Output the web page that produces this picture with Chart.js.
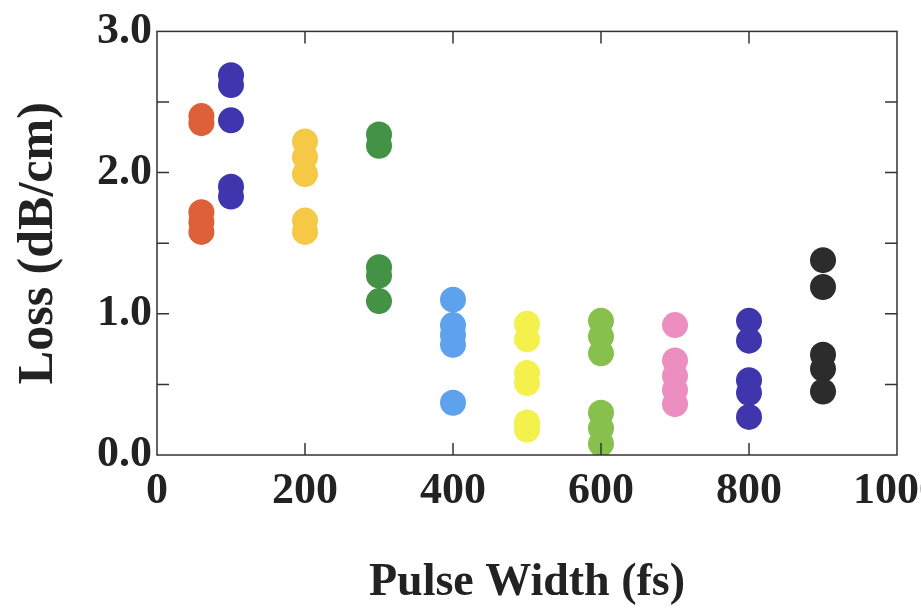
<!DOCTYPE html>
<html>
<head>
<meta charset="utf-8">
<script src="https://cdn.jsdelivr.net/npm/chart.js@4/dist/chart.umd.min.js"></script>
<style>
  html, body { margin: 0; padding: 0; background: #fff; overflow: hidden; width: 921px; height: 610px; }
  #wrap { width: 960px; height: 610px; }
</style>
</head>
<body>
<div id="wrap"><canvas id="c" width="960" height="610"></canvas></div>
<script>
// Pulse widths (fs) of each measured group
const pulseWidths = [60, 100, 200, 300, 400, 500, 600, 700, 800, 900];
// Loss values (dB/cm) for each pulse width
const loss60  = [2.40, 2.35, 1.72, 1.65, 1.58];
const loss100 = [2.69, 2.62, 2.37, 1.90, 1.83];
const loss200 = [2.22, 2.11, 1.99, 1.66, 1.58];
const loss300 = [2.27, 2.19, 1.33, 1.27, 1.09];
const loss400 = [1.10, 0.92, 0.85, 0.78, 0.37];
const loss500 = [0.93, 0.82, 0.58, 0.51, 0.23, 0.18];
const loss600 = [0.95, 0.84, 0.72, 0.30, 0.19, 0.08];
const loss700 = [0.92, 0.67, 0.56, 0.46, 0.36];
const loss800 = [0.95, 0.81, 0.53, 0.44, 0.27];
const loss900 = [1.38, 1.19, 0.71, 0.61, 0.45];
const lossGroups = [loss60, loss100, loss200, loss300, loss400, loss500, loss600, loss700, loss800, loss900];
const groupColors = ['#DE6038', '#3F36AE', '#F5C845', '#449246', '#5EA2EE', '#F4F04C', '#88C04E', '#EC8EC0', '#3F36AE', '#2C2C2C'];
const xTicks = [0, 200, 400, 600, 800, 1000];
const yTicks = [0, 0.5, 1.0, 1.5, 2.0, 2.5, 3.0];

const datasets = pulseWidths.map((x, i) => ({
  label: x + ' fs',
  data: lossGroups[i].map(v => ({ x: x, y: v })),
  backgroundColor: groupColors[i],
  borderWidth: 0,
  pointRadius: 13,
  pointHoverRadius: 13
}));

const frameColor = '#333';
const fontFamily = '"Liberation Serif", "Times New Roman", serif';

const framePlugin = {
  id: 'frame',
  afterDraw(chart) {
    const { ctx, chartArea: a, scales } = chart;
    ctx.save();
    ctx.strokeStyle = frameColor;
    ctx.lineWidth = 1.5;
    ctx.strokeRect(a.left, a.top, a.right - a.left, a.bottom - a.top);
    const tl = 12;
    ctx.beginPath();
    xTicks.forEach(t => {
      const px = scales.x.getPixelForValue(t);
      if (t === 0 || t === 1000) return;
      ctx.moveTo(px, a.bottom); ctx.lineTo(px, a.bottom - tl);
      ctx.moveTo(px, a.top); ctx.lineTo(px, a.top + tl);
    });
    yTicks.forEach(t => {
      const py = scales.y.getPixelForValue(t);
      if (t === 0 || t === 3) return;
      ctx.moveTo(a.left, py); ctx.lineTo(a.left + tl, py);
      ctx.moveTo(a.right, py); ctx.lineTo(a.right - tl, py);
    });
    ctx.stroke();
    ctx.restore();
  }
};

new Chart(document.getElementById('c'), {
  type: 'scatter',
  data: { datasets },
  options: {
    responsive: false,
    animation: false,
    devicePixelRatio: 1,
    layout: { padding: { left: 5, right: 63, top: 29, bottom: 0 } },
    plugins: { legend: { display: false }, tooltip: { enabled: false } },
    scales: {
      x: {
        type: 'linear', min: 0, max: 1000,
        afterBuildTicks: s => { s.ticks = xTicks.map(v => ({ value: v })); },
        ticks: {
          color: '#222', padding: 10,
          font: { family: fontFamily, size: 44, weight: 'bold' },
          callback: v => String(v), maxRotation: 0, autoSkip: false
        },
        grid: { display: false, drawTicks: false },
        border: { display: false },
        title: {
          display: true, text: 'Pulse Width (fs)', color: '#222',
          font: { family: fontFamily, size: 46, weight: 'bold', lineHeight: 1.0 }
        },
        afterFit: s => { s.height = 155; }
      },
      y: {
        type: 'linear', min: 0, max: 3,
        afterBuildTicks: s => { s.ticks = yTicks.map(v => ({ value: v })); },
        ticks: {
          color: '#222', padding: 5,
          font: { family: fontFamily, size: 44, weight: 'bold' },
          callback: v => (Math.abs(v % 1) < 1e-9 ? v.toFixed(1) : ''), autoSkip: false
        },
        grid: { display: false, drawTicks: false },
        border: { display: false },
        title: {
          display: true, text: 'Loss (dB/cm)', color: '#222',
          font: { family: fontFamily, size: 50, weight: 'bold' }
        },
        afterFit: s => { s.width = 152; }
      }
    }
  },
  plugins: [framePlugin]
});
</script>
</body>
</html>
